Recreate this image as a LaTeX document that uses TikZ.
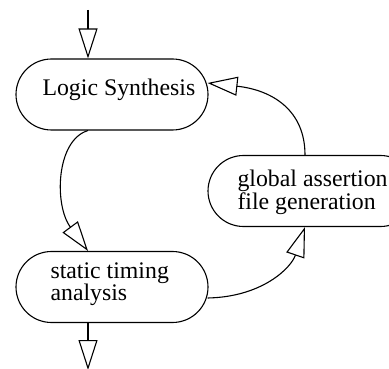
\documentclass[tikz,border=0pt]{standalone}
\usepackage{fontspec}
\setmainfont{Liberation Serif}
\usetikzlibrary{arrows.meta,calc}

\begin{document}
\begin{tikzpicture}[x=1pt,y=-1pt,
  line width=1.1pt,
  stadium/.style={draw, rectangle, rounded corners=35.5pt, inner sep=0pt,
                  minimum height=71pt},
  label/.style={inner sep=0pt, anchor=base west, align=left,
                font=\fontsize{23.8}{21.8}\selectfont},
  flow/.style={-{Triangle[open,length=30pt,width=19pt]}}
]
\useasboundingbox (0,0) rectangle (389,369);

% process boxes
\node[stadium, minimum width=192pt] (logic)  at (112,94.5) {};
\node[stadium, minimum width=208pt] (global) at (312,191)  {};
\node[stadium, minimum width=192pt] (static) at (112,287)  {};

% box captions (base anchor sits on the last line)
\node[label] (logictext)  at (42,96)   {Logic Synthesis};
\node[label] (globaltext) at (237,209.8) {global assertion\\file generation};
\node[label] (statictext) at (50,300.8)  {static timing\\analysis};

% entry and exit of the flow
\coordinate (in)  at (88,10);
\coordinate (out) at (88,370);
\draw[flow] (in) -- (in |- logic.north);
\draw[flow] (static.south -| out) -- (out);

% synthesis down to timing analysis
\draw[flow] (logic.south -| in) .. controls (56,140) and (54,205) .. (static.north -| in);

% timing analysis up to assertion file generation
\draw[flow] ($(static.east)+(-1,11)$) .. controls (262,297) and (291,268) .. ($(global.south)+(-7,0)$);

% assertion file back to synthesis
\draw[flow] ($(global.north)+(-7,0)$) .. controls (305,110) and (272,90) .. ($(logic.east)+(-1,-11.5)$);
\end{tikzpicture}
\end{document}
